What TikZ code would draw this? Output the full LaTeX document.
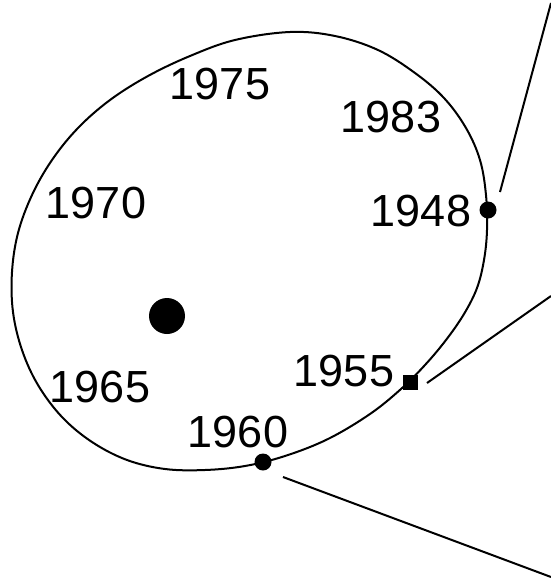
\documentclass[tikz,border=0pt]{standalone}
\usepackage{fontspec}
\setmainfont{Liberation Sans}
\begin{document}
\begin{tikzpicture}[x=1pt,y=-1pt,
  curve/.style={line width=2pt,black},
  conn/.style={line width=2pt,black},
  yr/.style={inner sep=0pt,font=\fontsize{45}{45}\selectfont},
  rdot/.style={circle,fill=black,inner sep=0pt,minimum size=#1},
  sdot/.style={rectangle,fill=black,inner sep=0pt,minimum size=#1}]
\useasboundingbox[fill=white] (0,0) rectangle (551,579);
\draw[curve] plot[smooth cycle,tension=0.6] coordinates {
 (290,32) (335,36) (378,50) (415,73) (444,98) (466,128) (480,160) (486,195)
 (487,230) (484,260) (477,288) (464,314) (446,340) (425,365) (401,389) (370,414)
 (328,439) (285,456) (245,466) (205,470) (165,469) (127,460) (92,442) (62,417)
 (38,385) (22,350) (13,312) (12,272) (18,233) (32,195) (52,160) (78,128)
 (110,100) (148,76) (190,56) (235,40)};
% dots
\node[rdot=36pt] (center) at (167,316) {};
\node[rdot=17pt] (d48) at (488,210) {};
\node[sdot=15pt] (d55) at (410,382) {};
\node[rdot=17pt] (d60) at (263,462) {};
% labels
\node[yr] (l75) at (220,84) {1975};
\node[yr] (l83) at (391,117) {1983};
\node[yr] (l70) at (96,203) {1970};
\node[yr] (l48) at (421,211) {1948};
\node[yr] (l65) at (100,387) {1965};
\node[yr] (l60) at (238,432) {1960};
\node[yr] (l55) at (344,371) {1955};
% connectors
\coordinate (s48) at (500,192);
\coordinate (e48) at (551,3);
\coordinate (s55) at (427,383);
\coordinate (e55) at (551,296);
\coordinate (s60) at (283,477);
\coordinate (e60) at (551,577);
\draw[conn] (s48) -- (e48);
\draw[conn] (s55) -- (e55);
\draw[conn] (s60) -- (e60);
\end{tikzpicture}
\end{document}
